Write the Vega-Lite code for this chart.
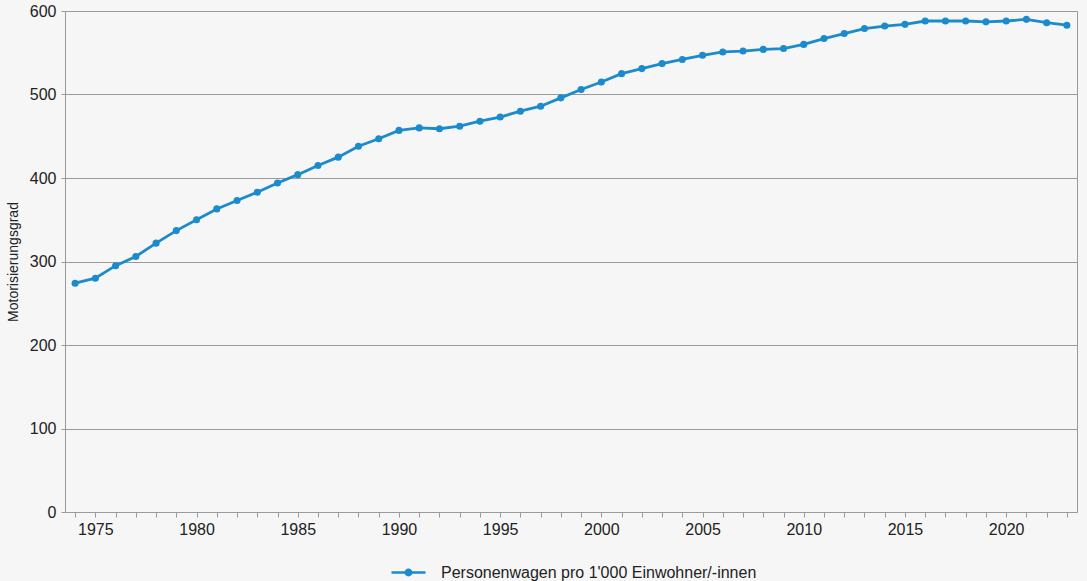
{
  "$schema": "https://vega.github.io/schema/vega-lite/v6.json",
  "width": 1012,
  "height": 501,
  "autosize": {"type": "none"},
  "padding": {"left": 65, "top": 11, "right": 10, "bottom": 69},
  "background": "#f6f6f6",
  "config": {
    "font": "Liberation Sans",
    "view": {"stroke": "#9a9a9a", "strokeWidth": 1},
    "axis": {
      "labelFont": "Liberation Sans",
      "labelFontSize": 16,
      "labelColor": "#222222",
      "titleFont": "Liberation Sans",
      "titleFontSize": 14,
      "titleFontWeight": "normal",
      "titleColor": "#222222",
      "domainColor": "#9a9a9a",
      "tickColor": "#9a9a9a",
      "gridColor": "#9a9a9a",
      "gridOpacity": 1
    }
  },
  "data": {
    "values": [
      {"year": 1974, "value": 274, "series": "Personenwagen pro 1'000 Einwohner/-innen"},
      {"year": 1975, "value": 280, "series": "Personenwagen pro 1'000 Einwohner/-innen"},
      {"year": 1976, "value": 295, "series": "Personenwagen pro 1'000 Einwohner/-innen"},
      {"year": 1977, "value": 306, "series": "Personenwagen pro 1'000 Einwohner/-innen"},
      {"year": 1978, "value": 322, "series": "Personenwagen pro 1'000 Einwohner/-innen"},
      {"year": 1979, "value": 337, "series": "Personenwagen pro 1'000 Einwohner/-innen"},
      {"year": 1980, "value": 350, "series": "Personenwagen pro 1'000 Einwohner/-innen"},
      {"year": 1981, "value": 363, "series": "Personenwagen pro 1'000 Einwohner/-innen"},
      {"year": 1982, "value": 373, "series": "Personenwagen pro 1'000 Einwohner/-innen"},
      {"year": 1983, "value": 383, "series": "Personenwagen pro 1'000 Einwohner/-innen"},
      {"year": 1984, "value": 394, "series": "Personenwagen pro 1'000 Einwohner/-innen"},
      {"year": 1985, "value": 404, "series": "Personenwagen pro 1'000 Einwohner/-innen"},
      {"year": 1986, "value": 415, "series": "Personenwagen pro 1'000 Einwohner/-innen"},
      {"year": 1987, "value": 425, "series": "Personenwagen pro 1'000 Einwohner/-innen"},
      {"year": 1988, "value": 438, "series": "Personenwagen pro 1'000 Einwohner/-innen"},
      {"year": 1989, "value": 447, "series": "Personenwagen pro 1'000 Einwohner/-innen"},
      {"year": 1990, "value": 457, "series": "Personenwagen pro 1'000 Einwohner/-innen"},
      {"year": 1991, "value": 460, "series": "Personenwagen pro 1'000 Einwohner/-innen"},
      {"year": 1992, "value": 459, "series": "Personenwagen pro 1'000 Einwohner/-innen"},
      {"year": 1993, "value": 462, "series": "Personenwagen pro 1'000 Einwohner/-innen"},
      {"year": 1994, "value": 468, "series": "Personenwagen pro 1'000 Einwohner/-innen"},
      {"year": 1995, "value": 473, "series": "Personenwagen pro 1'000 Einwohner/-innen"},
      {"year": 1996, "value": 480, "series": "Personenwagen pro 1'000 Einwohner/-innen"},
      {"year": 1997, "value": 486, "series": "Personenwagen pro 1'000 Einwohner/-innen"},
      {"year": 1998, "value": 496, "series": "Personenwagen pro 1'000 Einwohner/-innen"},
      {"year": 1999, "value": 506, "series": "Personenwagen pro 1'000 Einwohner/-innen"},
      {"year": 2000, "value": 515, "series": "Personenwagen pro 1'000 Einwohner/-innen"},
      {"year": 2001, "value": 525, "series": "Personenwagen pro 1'000 Einwohner/-innen"},
      {"year": 2002, "value": 531, "series": "Personenwagen pro 1'000 Einwohner/-innen"},
      {"year": 2003, "value": 537, "series": "Personenwagen pro 1'000 Einwohner/-innen"},
      {"year": 2004, "value": 542, "series": "Personenwagen pro 1'000 Einwohner/-innen"},
      {"year": 2005, "value": 547, "series": "Personenwagen pro 1'000 Einwohner/-innen"},
      {"year": 2006, "value": 551, "series": "Personenwagen pro 1'000 Einwohner/-innen"},
      {"year": 2007, "value": 552, "series": "Personenwagen pro 1'000 Einwohner/-innen"},
      {"year": 2008, "value": 554, "series": "Personenwagen pro 1'000 Einwohner/-innen"},
      {"year": 2009, "value": 555, "series": "Personenwagen pro 1'000 Einwohner/-innen"},
      {"year": 2010, "value": 560, "series": "Personenwagen pro 1'000 Einwohner/-innen"},
      {"year": 2011, "value": 567, "series": "Personenwagen pro 1'000 Einwohner/-innen"},
      {"year": 2012, "value": 573, "series": "Personenwagen pro 1'000 Einwohner/-innen"},
      {"year": 2013, "value": 579, "series": "Personenwagen pro 1'000 Einwohner/-innen"},
      {"year": 2014, "value": 582, "series": "Personenwagen pro 1'000 Einwohner/-innen"},
      {"year": 2015, "value": 584, "series": "Personenwagen pro 1'000 Einwohner/-innen"},
      {"year": 2016, "value": 588, "series": "Personenwagen pro 1'000 Einwohner/-innen"},
      {"year": 2017, "value": 588, "series": "Personenwagen pro 1'000 Einwohner/-innen"},
      {"year": 2018, "value": 588, "series": "Personenwagen pro 1'000 Einwohner/-innen"},
      {"year": 2019, "value": 587, "series": "Personenwagen pro 1'000 Einwohner/-innen"},
      {"year": 2020, "value": 588, "series": "Personenwagen pro 1'000 Einwohner/-innen"},
      {"year": 2021, "value": 590, "series": "Personenwagen pro 1'000 Einwohner/-innen"},
      {"year": 2022, "value": 586, "series": "Personenwagen pro 1'000 Einwohner/-innen"},
      {"year": 2023, "value": 583, "series": "Personenwagen pro 1'000 Einwohner/-innen"}
    ]
  },
  "mark": {
    "type": "line",
    "strokeWidth": 2.8,
    "point": {"filled": true, "size": 50, "opacity": 1}
  },
  "encoding": {
    "x": {
      "field": "year",
      "type": "quantitative",
      "scale": {"domain": [1973.5, 2023.5], "nice": false, "zero": false},
      "axis": {
        "title": null,
        "grid": false,
        "domain": false,
        "values": [1974, 1975, 1976, 1977, 1978, 1979, 1980, 1981, 1982, 1983, 1984, 1985, 1986, 1987, 1988, 1989, 1990, 1991, 1992, 1993, 1994, 1995, 1996, 1997, 1998, 1999, 2000, 2001, 2002, 2003, 2004, 2005, 2006, 2007, 2008, 2009, 2010, 2011, 2012, 2013, 2014, 2015, 2016, 2017, 2018, 2019, 2020, 2021, 2022, 2023],
        "format": "d",
        "labelExpr": "datum.value % 5 === 0 ? datum.label : ''",
        "labelOverlap": false,
        "tickSize": 5,
        "labelPadding": 4
      }
    },
    "y": {
      "field": "value",
      "type": "quantitative",
      "scale": {"domain": [0, 600], "nice": false},
      "axis": {
        "title": "Motorisierungsgrad",
        "values": [0, 100, 200, 300, 400, 500, 600],
        "tickSize": 4,
        "labelPadding": 5,
        "titlePadding": 9
      }
    },
    "color": {
      "field": "series",
      "type": "nominal",
      "scale": {"range": ["#1b8bcc"]},
      "legend": {
        "title": null,
        "orient": "none",
        "legendX": 325,
        "legendY": 543,
        "padding": 0,
        "symbolType": "M-1,0H1M-0.16,0A0.16,0.16 0 1,0 0.16,0A0.16,0.16 0 1,0 -0.16,0Z",
        "symbolSize": 1156,
        "symbolStrokeWidth": 2.5,
        "symbolFillColor": "#1b8bcc",
        "symbolStrokeColor": "#1b8bcc",
        "labelFont": "Liberation Sans",
        "labelFontSize": 16,
        "labelColor": "#222222",
        "labelLimit": 600,
        "labelOffset": 14
      }
    }
  }
}
